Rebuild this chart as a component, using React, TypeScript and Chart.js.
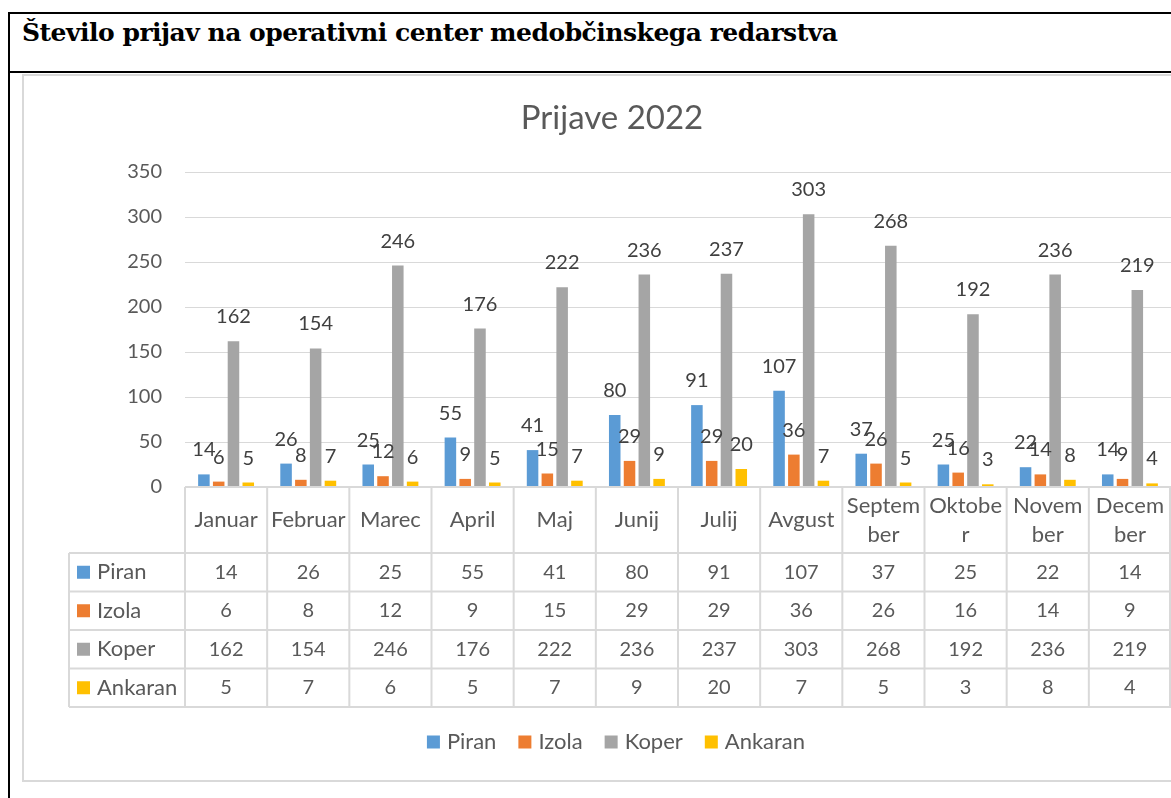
import React, { useEffect, useRef } from "react";
import { Chart, registerables } from "chart.js";

Chart.register(...registerables);

const months = ["Januar", "Februar", "Marec", "April", "Maj", "Junij", "Julij", "Avgust", "September", "Oktober", "November", "December"];
const headerLabels = [["Januar"], ["Februar"], ["Marec"], ["April"], ["Maj"], ["Junij"], ["Julij"], ["Avgust"], ["Septem", "ber"], ["Oktobe", "r"], ["Novem", "ber"], ["Decem", "ber"]];
const seriesNames = ["Piran", "Izola", "Koper", "Ankaran"];
const piran = [14, 26, 25, 55, 41, 80, 91, 107, 37, 25, 22, 14];
const izola = [6, 8, 12, 9, 15, 29, 29, 36, 26, 16, 14, 9];
const koper = [162, 154, 246, 176, 222, 236, 237, 303, 268, 192, 236, 219];
const ankaran = [5, 7, 6, 5, 7, 9, 20, 7, 5, 3, 8, 4];
const seriesColors = ["#5B9BD5", "#ED7D31", "#A5A5A5", "#FFC000"];
const yMin = 0;
const yMax = 350;
const yStep = 50;
const pageTitle = "Število prijav na operativni center medobčinskega redarstva";
const chartTitle = "Prijave 2022";

const FONT = "Lato, 'Open Sans', sans-serif";
const GRID = "#d9d9d9";
const TEXT = "#595959";

const tablePlugin = {
  id: "excelExtras",
  afterDatasetsDraw(chart: any) {
    const ctx = chart.ctx;
    ctx.save();
    ctx.font = `20px ${FONT}`;
    ctx.fillStyle = "#404040";
    ctx.textAlign = "center";
    ctx.textBaseline = "alphabetic";
    chart.data.datasets.forEach((ds: any, di: number) => {
      const meta = chart.getDatasetMeta(di);
      meta.data.forEach((el: any, i: number) => {
        ctx.fillText(String(ds.data[i]), el.x, el.y - 18);
      });
    });
    ctx.restore();
  },
  afterDraw(chart: any) {
    const ctx = chart.ctx;
    const xs = chart.scales.x;
    const area = chart.chartArea;
    const n = months.length;
    const catW = (area.right - area.left) / n;
    const top = area.bottom;
    const headerH = 66;
    const rowH = 38.5;
    const rowsTop = top + headerH;
    const bottom = rowsTop + rowH * seriesNames.length;
    const labelLeft = 69;
    ctx.save();
    ctx.strokeStyle = GRID;
    ctx.lineWidth = 2;
    ctx.beginPath();
    ctx.moveTo(area.left, top);
    ctx.lineTo(area.right, top);
    for (let r = 0; r <= seriesNames.length; r++) {
      const y = rowsTop + r * rowH;
      ctx.moveTo(labelLeft, y);
      ctx.lineTo(area.right, y);
    }
    for (let i = 0; i <= n; i++) {
      const x = i < n ? xs.getPixelForValue(i) - catW / 2 : area.right - 1;
      ctx.moveTo(x, top);
      ctx.lineTo(x, bottom);
    }
    ctx.moveTo(labelLeft, rowsTop);
    ctx.lineTo(labelLeft, bottom);
    ctx.stroke();

    ctx.fillStyle = TEXT;
    ctx.textAlign = "center";
    ctx.textBaseline = "middle";
    ctx.font = `22px ${FONT}`;
    headerLabels.forEach((lines, i) => {
      const cx = xs.getPixelForValue(i);
      const cy = top + headerH / 2;
      const lh = 29;
      lines.forEach((ln, k) => {
        ctx.fillText(ln, cx, cy + (k - (lines.length - 1) / 2) * lh);
      });
    });
    const allSeries = [piran, izola, koper, ankaran];
    allSeries.forEach((vals, r) => {
      const cy = rowsTop + r * rowH + rowH / 2;
      ctx.font = `20px ${FONT}`;
      ctx.textAlign = "center";
      ctx.fillStyle = TEXT;
      vals.forEach((v, i) => {
        ctx.fillText(String(v), xs.getPixelForValue(i), cy);
      });
      ctx.fillStyle = seriesColors[r];
      ctx.fillRect(77, cy - 6.5, 13, 13);
      ctx.fillStyle = TEXT;
      ctx.textAlign = "left";
      ctx.font = `22px ${FONT}`;
      ctx.fillText(seriesNames[r], 97, cy);
    });

    ctx.font = `33px ${FONT}`;
    ctx.fillStyle = TEXT;
    ctx.textAlign = "center";
    ctx.fillText(chartTitle, 612, 118);

    ctx.font = `22px ${FONT}`;
    const box = 13, gap = 7, itemGap = 22;
    const widths = seriesNames.map((s) => box + gap + ctx.measureText(s).width);
    const total = widths.reduce((a, b) => a + b, 0) + itemGap * (widths.length - 1);
    let lx = 616 - total / 2;
    const ly = 742;
    ctx.textAlign = "left";
    seriesNames.forEach((s, i) => {
      ctx.fillStyle = seriesColors[i];
      ctx.fillRect(lx, ly - box / 2, box, box);
      ctx.fillStyle = TEXT;
      ctx.fillText(s, lx + box + gap, ly);
      lx += widths[i] + itemGap;
    });
    ctx.restore();
  },
};

function BarChart() {
  const ref = useRef<HTMLCanvasElement | null>(null);
  useEffect(() => {
    if (!ref.current) return;
    const chart = new Chart(ref.current, {
      type: "bar",
      data: {
        labels: months,
        datasets: [piran, izola, koper, ankaran].map((d, i) => ({
          label: seriesNames[i],
          data: d,
          backgroundColor: seriesColors[i],
          borderWidth: 0,
          categoryPercentage: 0.72,
          barPercentage: 0.78,
        })),
      },
      options: {
        responsive: false,
        animation: false,
        layout: { padding: { top: 172, bottom: 311, left: 0, right: 0 } },
        plugins: {
          legend: { display: false },
          title: { display: false },
          tooltip: { enabled: false },
        },
        scales: {
          x: { display: false },
          y: {
            min: yMin,
            max: yMax,
            afterFit: (scale: any) => {
              scale.width = 185;
            },
            ticks: {
              stepSize: yStep,
              padding: 23,
              color: TEXT,
              font: { family: FONT, size: 20 },
            },
            border: { display: false },
            grid: { color: GRID, lineWidth: 1, drawTicks: false },
          },
        },
      },
      plugins: [tablePlugin],
    });
    return () => chart.destroy();
  }, []);
  return <canvas ref={ref} width={1171} height={798} style={{ position: "absolute", left: 0, top: 0, width: 1171, height: 798 }} />;
}

export default function App() {
  return (
    <div style={{ position: "fixed", left: 0, top: 0, width: 1171, height: 798, overflow: "hidden", background: "#fff" }}>
      <div style={{ position: "absolute", left: 8, top: 12, width: 1300, height: 900, borderLeft: "2px solid #000", borderTop: "2px solid #000" }} />
      <div style={{ position: "absolute", left: 8, top: 71, width: 1300, height: 2, background: "#000" }} />
      <div style={{ position: "absolute", left: 22, top: 74, width: 1300, height: 704, border: "2px solid #d9d9d9" }} />
      <div style={{ position: "absolute", left: 22, top: 19, fontFamily: "'DejaVu Serif', serif", fontWeight: "bold", fontSize: 25, lineHeight: "28px", letterSpacing: "-0.5px", color: "#000", whiteSpace: "nowrap" }}>{pageTitle}</div>
      <BarChart />
    </div>
  );
}
